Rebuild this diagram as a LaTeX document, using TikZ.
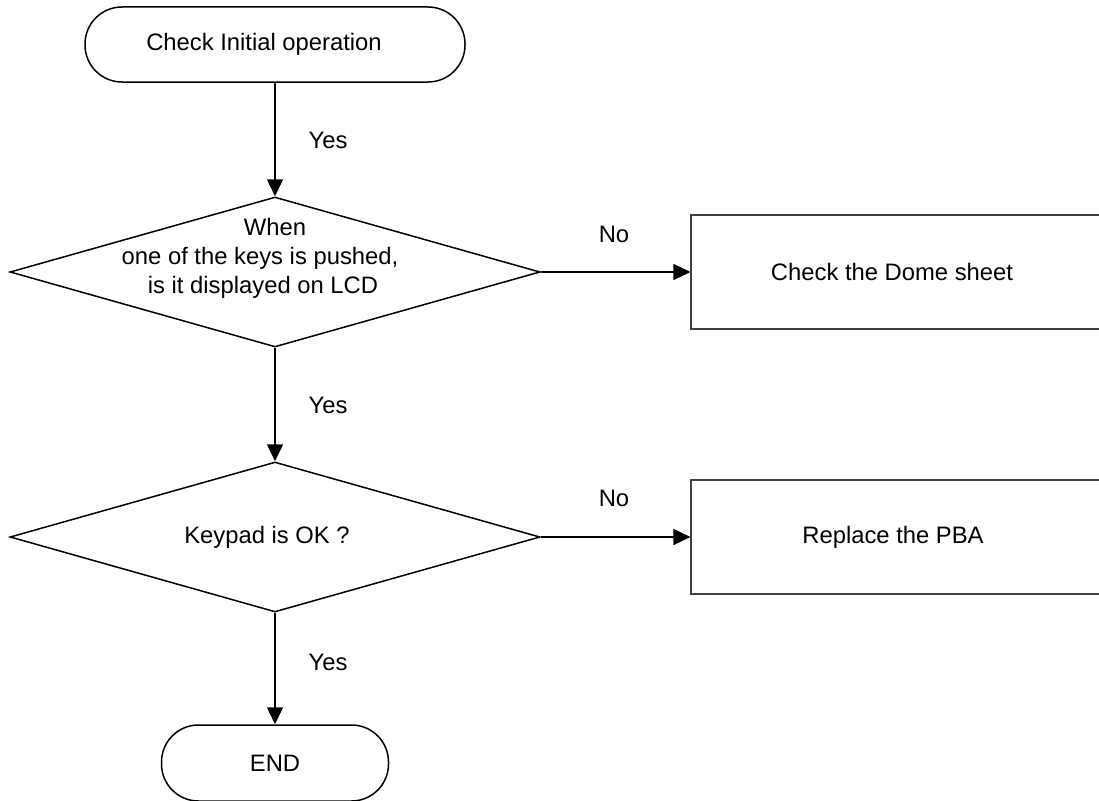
\documentclass[tikz,border=0pt]{standalone}
\usepackage{fontspec}
\setmainfont{Liberation Sans}
\usetikzlibrary{shapes.geometric,arrows.meta}
\begin{document}
\begin{tikzpicture}[x=1pt,y=-1pt,
  every node/.style={font=\fontsize{23.8}{29}\selectfont},
  term/.style={draw,line width=1.5pt,rounded corners=37pt,inner sep=0pt},
  decision/.style={draw,diamond,line width=1.5pt,inner sep=0pt,minimum width=530pt,minimum height=150pt},
  procbox/.style={draw=black!75,line width=1.1pt,inner sep=0pt,minimum width=420pt,minimum height=114pt},
  flow/.style={line width=1.5pt,-{Triangle[length=17pt,width=16pt]}},
  lbl/.style={inner sep=0pt}
]
\useasboundingbox (0,0) rectangle (1099,800);
\node[term,minimum width=380pt,minimum height=75pt] (start) at (275,44.5) {};
\node[lbl] (t0) at (264,44.5) {Check Initial operation};
\node[decision] (d1) at (275,272) {};
\node[lbl,align=center] (t1) at (275,258) {When\\one of the keys is pushed,\kern30pt\\is it displayed on LCD\kern24pt};
\node[decision] (d2) at (275,537) {};
\node[lbl] (t2) at (267,537) {Keypad is OK ?};
\node[procbox] (b1) at (901,272) {};
\node[lbl] (t3) at (892,272) {Check the Dome sheet};
\node[procbox] (b2) at (901,537) {};
\node[lbl] (t4) at (893,537) {Replace the PBA};
\node[term,minimum width=227pt,minimum height=76pt] (end) at (275,763) {END};
\draw[flow] (start.south) -- (d1.north);
\draw[flow] (d1.east) -- (b1.west);
\draw[flow] (d1.south) -- (d2.north);
\draw[flow] (d2.east) -- (b2.west);
\draw[flow] (d2.south) -- (end.north);
\node[lbl] (y1) at (328,140) {Yes};
\node[lbl] (y2) at (328,405) {Yes};
\node[lbl] (y3) at (328,662) {Yes};
\node[lbl] (n1) at (614,234) {No};
\node[lbl] (n2) at (614,498) {No};
\end{tikzpicture}
\end{document}
